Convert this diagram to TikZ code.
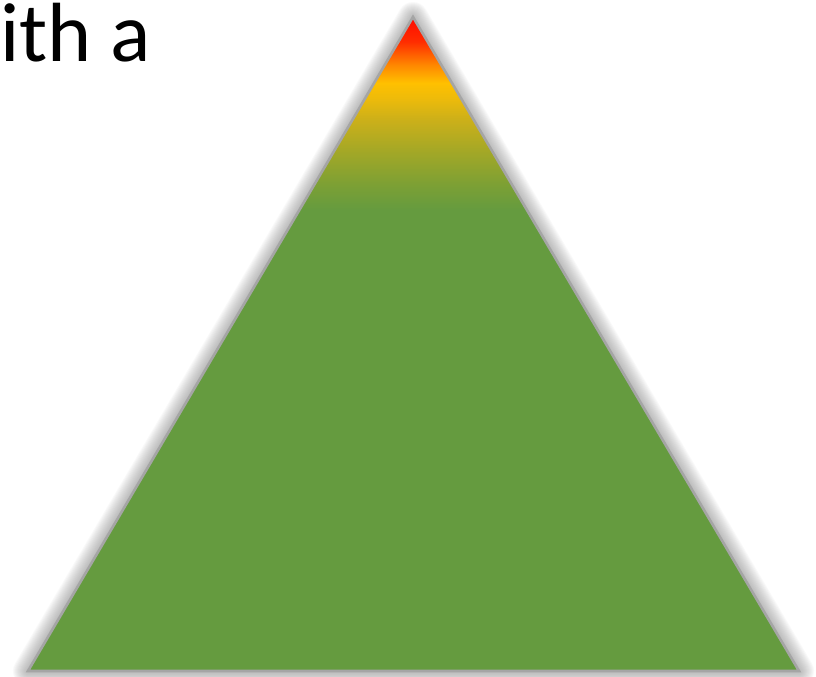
\documentclass[tikz,border=0pt]{standalone}
\usepackage{fontspec}
\usepackage{graphicx}
\setmainfont{Carlito}
\definecolor{trigreen}{RGB}{101,155,63}
\definecolor{triolA}{RGB}{125,160,52}
\definecolor{triolB}{RGB}{165,168,38}
\definecolor{triolC}{RGB}{205,176,25}
\definecolor{triolD}{RGB}{238,187,10}
\definecolor{trigold}{RGB}{255,192,0}
\definecolor{triorange}{RGB}{255,135,0}
\definecolor{trired}{RGB}{255,10,0}
\definecolor{triredB}{RGB}{255,45,0}
\definecolor{triedge}{RGB}{165,165,165}
\pgfdeclareverticalshading{trishade}{79bp}{%
  color(0bp)=(trigreen);
  color(46.1bp)=(trigreen);
  color(48.7bp)=(triolA);
  color(52.1bp)=(triolB);
  color(55.2bp)=(triolC);
  color(57.3bp)=(triolD);
  color(58.8bp)=(trigold);
  color(60.6bp)=(triorange);
  color(62.9bp)=(triredB);
  color(65.4bp)=(trired)}
\tikzset{
  glow/.style={draw=black!55, line join=round, opacity=0.045},
  edge/.style={draw=triedge, line width=2.6bp, line join=miter},
  bigtext/.style={inner sep=0pt, font=\fontsize{84bp}{100bp}\selectfont}
}
\begin{document}
\begin{tikzpicture}[x=1bp,y=-1bp]
\useasboundingbox (0,0) rectangle (816,677);
\coordinate (apex) at (413,17);
\coordinate (bl) at (28,671);
\coordinate (br) at (799,671);
% soft glow
\foreach \w in {2,4,...,30}{
  \draw[glow, line width=\w bp] (apex) -- (bl) -- (br) -- cycle;
}
\fill[white] (apex) -- (bl) -- (br) -- cycle;
\begin{scope}
  \clip (apex) -- (bl) -- (br) -- cycle;
  \node[inner sep=0pt, outer sep=0pt, anchor=south west] (shade) at (20,671) {\resizebox{790bp}{654bp}{\pgfuseshading{trishade}}};
\end{scope}
\draw[edge] (apex) -- (bl) -- (br) -- cycle;
\node[bigtext, anchor=base west] (txt) at (0,62) {ith a};
\end{tikzpicture}
\end{document}
